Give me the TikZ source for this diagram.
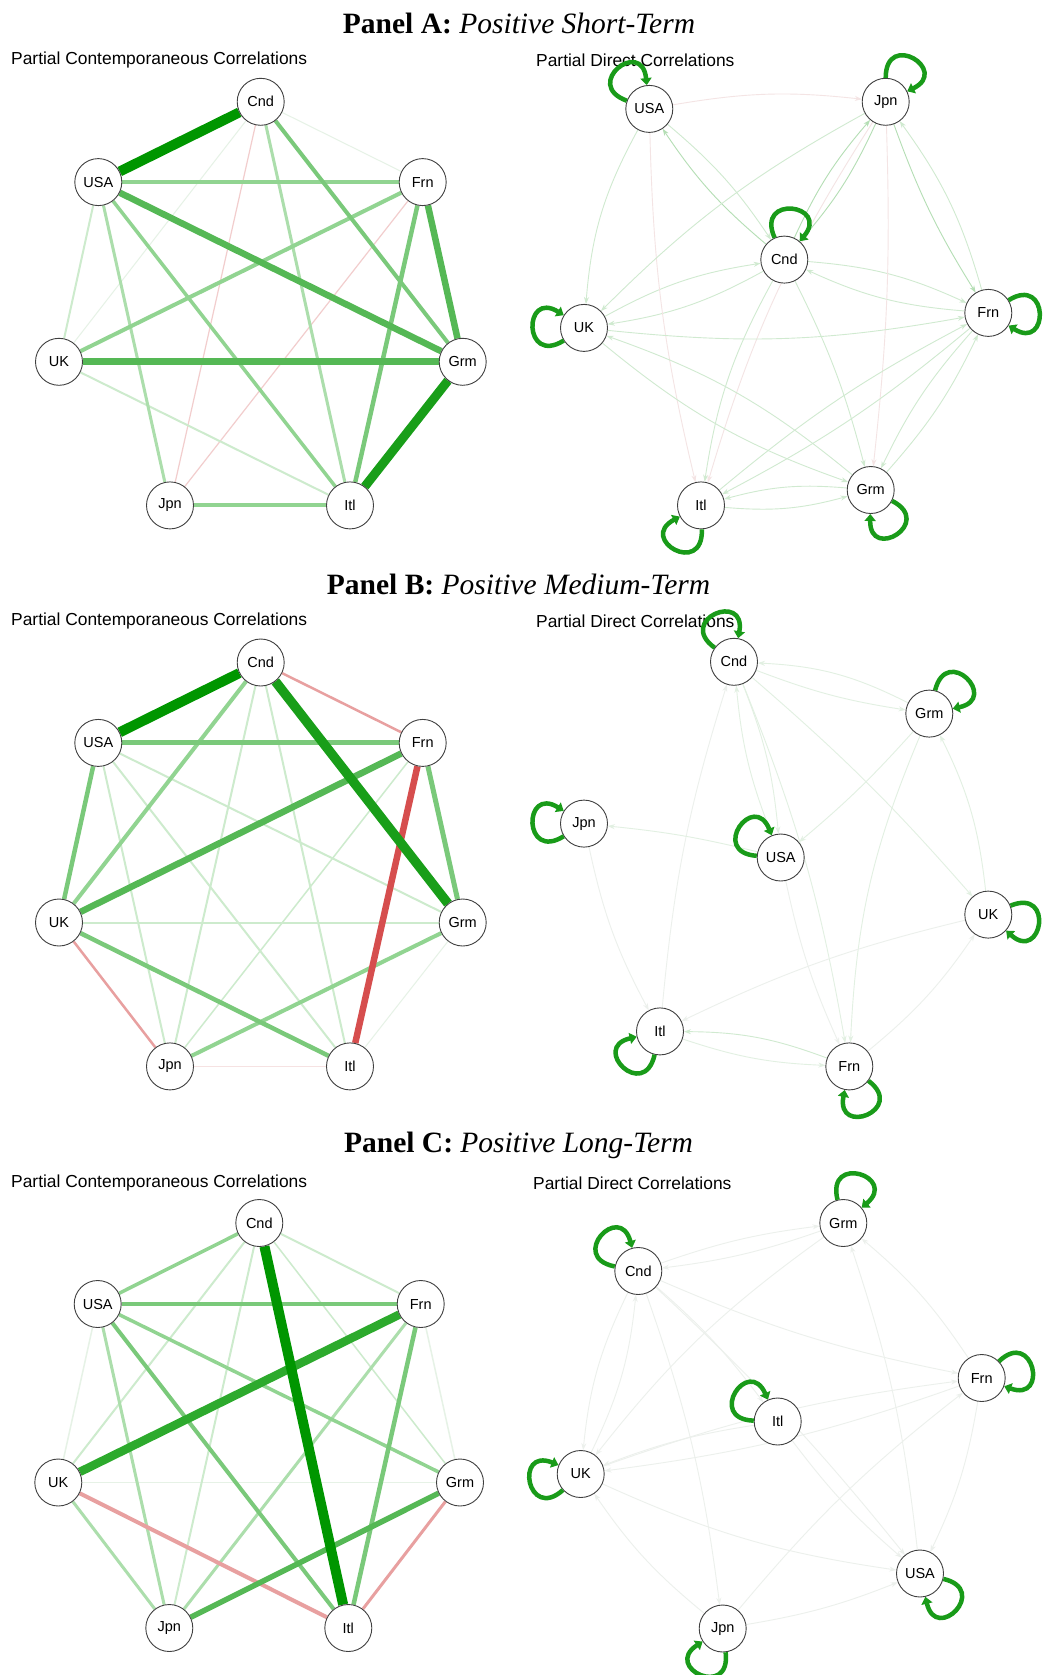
\documentclass[tikz,border=0pt]{standalone}
\usepackage{fontspec}
\setmainfont{Liberation Serif}
\setsansfont{Liberation Sans}
\usetikzlibrary{arrows.meta}
\definecolor{dg}{RGB}{0,150,0}
\definecolor{gA}{RGB}{25,158,25}
\definecolor{gAb}{RGB}{45,170,45}
\definecolor{gB}{RGB}{85,184,85}
\definecolor{gC}{RGB}{122,201,122}
\definecolor{gCl}{RGB}{145,212,145}
\definecolor{gD}{RGB}{172,222,172}
\definecolor{gE}{RGB}{205,235,205}
\definecolor{gF}{RGB}{230,242,230}
\definecolor{pkA}{RGB}{232,160,160}
\definecolor{pkB}{RGB}{242,205,205}
\definecolor{pkC}{RGB}{246,226,226}
\definecolor{rdA}{RGB}{214,78,78}
\definecolor{lpc}{RGB}{25,155,25}
\definecolor{fA}{RGB}{208,234,208}
\definecolor{fA2}{RGB}{180,222,180}
\definecolor{fP}{RGB}{244,228,228}
\definecolor{fB}{RGB}{226,240,226}
\definecolor{fC}{RGB}{236,240,236}
\pgfdeclarelayer{bg}
\pgfsetlayers{bg,main}
\tikzset{
  nd/.style={circle,draw=black!75,line width=0.9pt,fill=white,minimum size=47pt,inner sep=0pt,font=\sffamily\fontsize{14.5}{16}\selectfont},
  ptitle/.style={font=\fontsize{29.5}{32}\selectfont},
  subt/.style={anchor=west,inner sep=0pt,font=\sffamily\fontsize{17.4}{19}\selectfont},
  de/.style={line width=0.9pt,-{Stealth[length=7pt,width=5pt]}},
  lp/.style={draw=lpc,line width=4.5pt,-{Triangle[length=7pt,width=11pt]}}
}
\newcommand\cedge[4]{\draw[line width=#1pt,draw=#2] (#3) -- (#4);}
\newcommand\sloop[2]{\pgfmathsetmacro\lpo{#2+32}\pgfmathsetmacro\lpi{#2-32}\draw[lp] (#1) to[out=\lpo,in=\lpi,distance=48pt] (#1);}
\begin{document}
\begin{tikzpicture}[x=1pt,y=-1pt]
\useasboundingbox (0,0) rectangle (1042,1675);
\begin{pgfonlayer}{bg}
\fill[white] (0,0) rectangle (1042,1675);
\end{pgfonlayer}

% titles
\node[ptitle] (tA) at (519,23.5) {\textbf{Panel A:} \textit{Positive Short-Term}};
\node[ptitle] (tB) at (518.5,584.6) {\textbf{Panel B:} \textit{Positive Medium-Term}};
\node[ptitle] (tC) at (518.5,1145.6) {\textbf{Panel C:} \textit{Positive Long-Term}};
\node[subt] (sAL) at (11,60) {Partial Contemporaneous Correlations};
\node[subt] (sAR) at (536,60) {Partial Direct Correlations};
\node[subt] (sBL) at (11,620.8) {Partial Contemporaneous Correlations};
\node[subt] (sBR) at (536,620.8) {Partial Direct Correlations};
\node[subt] (sCL) at (11,1183.4) {Partial Contemporaneous Correlations};
\node[subt] (sCR) at (533,1183.4) {Partial Direct Correlations};

% ---------- Panel A left ----------
\node[nd] (aCnd) at (260.7,101.8) {Cnd};
\node[nd] (aUSA) at (98.3,182.1) {USA};
\node[nd] (aFrn) at (422.7,182.1) {Frn};
\node[nd] (aUK) at (59,361.8) {UK};
\node[nd] (aGrm) at (462.7,361.8) {Grm};
\node[nd] (aJpn) at (170,505.4) {Jpn};
\node[nd] (aItl) at (350,505.4) {Itl};
\begin{pgfonlayer}{bg}
\cedge{1}{gF}{aCnd}{aUK}
\cedge{1}{gF}{aCnd}{aFrn}
\cedge{1.2}{pkB}{aCnd}{aJpn}
\cedge{1.2}{pkB}{aFrn}{aJpn}
\cedge{2}{gE}{aUSA}{aUK}
\cedge{2}{gE}{aUK}{aItl}
\cedge{3}{gD}{aCnd}{aItl}
\cedge{3}{gD}{aUSA}{aJpn}
\cedge{3.5}{gCl}{aUSA}{aItl}
\cedge{4}{gCl}{aUSA}{aFrn}
\cedge{4}{gCl}{aFrn}{aUK}
\cedge{4}{gCl}{aJpn}{aItl}
\cedge{4}{gC}{aCnd}{aGrm}
\cedge{4.5}{gC}{aFrn}{aItl}
\cedge{6.5}{gB}{aUSA}{aGrm}
\cedge{6.5}{gB}{aFrn}{aGrm}
\cedge{7}{gB}{aUK}{aGrm}
\cedge{9}{gA}{aGrm}{aItl}
\cedge{10}{dg}{aUSA}{aCnd}
\end{pgfonlayer}

% ---------- Panel A right ----------
\node[nd] (aRUSA) at (649.3,108.9) {USA};
\node[nd] (aRJpn) at (885.7,101.8) {Jpn};
\node[nd] (aRCnd) at (784.3,259.6) {Cnd};
\node[nd] (aRUK) at (584,327.9) {UK};
\node[nd] (aRFrn) at (988.3,312.9) {Frn};
\node[nd] (aRItl) at (701,505.4) {Itl};
\node[nd] (aRGrm) at (870.7,490) {Grm};
\begin{pgfonlayer}{bg}
\draw[de,fA2] (aRCnd) to[bend left=8] (aRUSA);
\draw[de,fA] (aRUSA) to[bend left=8] (aRCnd);
\draw[de,fA2] (aRCnd) to[bend left=8] (aRJpn);
\draw[de,fA2] (aRJpn) to[bend left=8] (aRCnd);
\draw[de,fA] (aRCnd) to[bend left=10] (aRUK);
\draw[de,fA] (aRUK) to[bend left=10] (aRCnd);
\draw[de,fA] (aRCnd) to[bend left=10] (aRFrn);
\draw[de,fA] (aRFrn) to[bend left=10] (aRCnd);
\draw[de,fA] (aRCnd) to[bend right=10] (aRItl);
\draw[de,fA] (aRCnd) to[bend left=6] (aRGrm);
\draw[de,fA2] (aRJpn) to[bend right=6] (aRFrn);
\draw[de,fA] (aRFrn) to[bend right=10] (aRJpn);
\draw[de,fP] (aRUSA) to[bend left=8] (aRJpn);
\draw[de,fA] (aRUSA) to[bend right=12] (aRUK);
\draw[de,fP] (aRUSA) to[bend right=6] (aRItl);
\draw[de,fP] (aRJpn) to[bend right=8] (aRItl);
\draw[de,fA] (aRJpn) to[bend right=8] (aRUK);
\draw[de,fP] (aRJpn) to[bend left=4] (aRGrm);
\draw[de,fA] (aRUK) to[bend right=10] (aRGrm);
\draw[de,fA] (aRGrm) to[bend right=10] (aRUK);
\draw[de,fA] (aRItl) to[bend right=10] (aRGrm);
\draw[de,fA] (aRGrm) to[bend right=10] (aRItl);
\draw[de,fA] (aRFrn) to[bend left=6] (aRItl);
\draw[de,fA] (aRItl) to[bend left=6] (aRFrn);
\draw[de,fA] (aRGrm) to[bend right=8] (aRFrn);
\draw[de,fA] (aRFrn) to[bend right=8] (aRGrm);
\draw[de,fA] (aRUK) to[bend right=8] (aRFrn);
\end{pgfonlayer}
\sloop{aRUSA}{128}
\sloop{aRJpn}{58}
\sloop{aRCnd}{82}
\sloop{aRUK}{180}
\sloop{aRFrn}{0}
\sloop{aRItl}{240}
\sloop{aRGrm}{301}

% ---------- Panel B left ----------
\node[nd] (bCnd) at (260.7,662.5) {Cnd};
\node[nd] (bUSA) at (98.3,742.9) {USA};
\node[nd] (bFrn) at (422.7,742.9) {Frn};
\node[nd] (bUK) at (59,922.5) {UK};
\node[nd] (bGrm) at (462.7,922.5) {Grm};
\node[nd] (bJpn) at (170,1066.4) {Jpn};
\node[nd] (bItl) at (350,1066.4) {Itl};
\begin{pgfonlayer}{bg}
\cedge{1}{gF}{bGrm}{bItl}
\cedge{1.2}{pkC}{bJpn}{bItl}
\cedge{1.5}{gE}{bFrn}{bJpn}
\cedge{2}{gE}{bCnd}{bJpn}
\cedge{2}{gE}{bCnd}{bItl}
\cedge{2}{gE}{bUSA}{bJpn}
\cedge{2}{gE}{bUSA}{bItl}
\cedge{2}{gE}{bUSA}{bGrm}
\cedge{2}{gE}{bUK}{bGrm}
\cedge{2.5}{pkA}{bCnd}{bFrn}
\cedge{2.5}{pkA}{bUK}{bJpn}
\cedge{4}{gCl}{bCnd}{bUK}
\cedge{4}{gCl}{bGrm}{bJpn}
\cedge{5}{gC}{bUSA}{bFrn}
\cedge{4.5}{gC}{bUSA}{bUK}
\cedge{5}{gC}{bFrn}{bGrm}
\cedge{4.5}{gC}{bUK}{bItl}
\cedge{6.5}{gB}{bFrn}{bUK}
\cedge{6.5}{rdA}{bFrn}{bItl}
\cedge{9.5}{gA}{bCnd}{bGrm}
\cedge{10}{dg}{bUSA}{bCnd}
\end{pgfonlayer}

% ---------- Panel B right ----------
\node[nd] (bRCnd) at (734,661.8) {Cnd};
\node[nd] (bRGrm) at (929.3,713.6) {Grm};
\node[nd] (bRJpn) at (584,823.6) {Jpn};
\node[nd] (bRUSA) at (780.7,857.5) {USA};
\node[nd] (bRUK) at (988.3,914.6) {UK};
\node[nd] (bRItl) at (660,1031.4) {Itl};
\node[nd] (bRFrn) at (849.3,1066.4) {Frn};
\begin{pgfonlayer}{bg}
\draw[de,fB] (bRGrm) to[bend right=12] (bRCnd);
\draw[de,fB] (bRCnd) to[bend right=6] (bRGrm);
\draw[de,fB] (bRCnd) to[bend left=8] (bRUSA);
\draw[de,fB] (bRUSA) to[bend left=8] (bRCnd);
\draw[de,fB] (bRCnd) to[bend left=4] (bRUK);
\draw[de,fB] (bRGrm) to[bend left=4] (bRUSA);
\draw[de,fB] (bRGrm) to[bend right=10] (bRFrn);
\draw[de,fB] (bRUK) to[bend right=10] (bRGrm);
\draw[de,fB] (bRCnd) to[bend left=6] (bRFrn);
\draw[de,fA] (bRFrn) to[bend right=10] (bRItl);
\draw[de,fB] (bRItl) to[bend right=8] (bRFrn);
\draw[de,fC] (bRItl) to[bend left=6] (bRCnd);
\draw[de,fB] (bRUSA) to[bend right=4] (bRJpn);
\draw[de,fC] (bRJpn) to[bend right=8] (bRItl);
\draw[de,fC] (bRUK) to[bend right=6] (bRItl);
\draw[de,fC] (bRFrn) to[bend right=8] (bRUK);
\draw[de,fC] (bRUSA) to[bend right=6] (bRFrn);
\end{pgfonlayer}
\sloop{bRCnd}{112}
\sloop{bRGrm}{44}
\sloop{bRJpn}{180}
\sloop{bRUSA}{144}
\sloop{bRUK}{-10}
\sloop{bRItl}{225}
\sloop{bRFrn}{-69}

% ---------- Panel C left ----------
\node[nd] (cCnd) at (259.3,1223) {Cnd};
\node[nd] (cUSA) at (97.7,1304) {USA};
\node[nd] (cFrn) at (420.7,1304) {Frn};
\node[nd] (cUK) at (58.3,1482.5) {UK};
\node[nd] (cGrm) at (460,1482.5) {Grm};
\node[nd] (cJpn) at (169.3,1628) {Jpn};
\node[nd] (cItl) at (348.3,1628) {Itl};
\begin{pgfonlayer}{bg}
\cedge{1}{gF}{cUK}{cGrm}
\cedge{1.5}{gF}{cUSA}{cUK}
\cedge{1.5}{gF}{cFrn}{cGrm}
\cedge{1.5}{gE}{cCnd}{cGrm}
\cedge{2}{gE}{cCnd}{cFrn}
\cedge{2}{gE}{cCnd}{cUK}
\cedge{2}{gE}{cCnd}{cJpn}
\cedge{3}{gD}{cUSA}{cJpn}
\cedge{3}{gD}{cFrn}{cJpn}
\cedge{3}{gD}{cUK}{cJpn}
\cedge{3}{pkA}{cGrm}{cItl}
\cedge{3.5}{gCl}{cCnd}{cUSA}
\cedge{3.5}{gCl}{cUSA}{cGrm}
\cedge{4}{gC}{cUSA}{cItl}
\cedge{4.5}{gC}{cUSA}{cFrn}
\cedge{4.5}{gC}{cFrn}{cItl}
\cedge{4}{pkA}{cUK}{cItl}
\cedge{5.5}{gB}{cGrm}{cJpn}
\cedge{8.5}{gAb}{cFrn}{cUK}
\cedge{10}{dg}{cCnd}{cItl}
\end{pgfonlayer}

% ---------- Panel C right ----------
\node[nd] (cRGrm) at (843.3,1223) {Grm};
\node[nd] (cRCnd) at (638.3,1271) {Cnd};
\node[nd] (cRFrn) at (981.7,1378) {Frn};
\node[nd] (cRItl) at (777.7,1421.5) {Itl};
\node[nd] (cRUK) at (580.7,1474) {UK};
\node[nd] (cRUSA) at (920,1573.5) {USA};
\node[nd] (cRJpn) at (722.7,1628.5) {Jpn};
\begin{pgfonlayer}{bg}
\draw[de,fC] (cRCnd) to[bend left=6] (cRGrm);
\draw[de,fC] (cRGrm) to[bend left=6] (cRCnd);
\draw[de,fC] (cRCnd) to[bend right=6] (cRFrn);
\draw[de,fC] (cRCnd) to[bend left=4] (cRUSA);
\draw[de,fC] (cRCnd) to[bend right=10] (cRUK);
\draw[de,fC] (cRUK) to[bend right=10] (cRCnd);
\draw[de,fC] (cRCnd) to[bend left=6] (cRJpn);
\draw[de,fC] (cRCnd) to[bend left=6] (cRItl);
\draw[de,fC] (cRUSA) to[bend right=6] (cRGrm);
\draw[de,fC] (cRFrn) to[bend right=8] (cRGrm);
\draw[de,fC] (cRFrn) to[bend left=6] (cRUK);
\draw[de,fC] (cRUK) to[bend left=6] (cRFrn);
\draw[de,fC] (cRFrn) to[bend left=8] (cRUSA);
\draw[de,fC] (cRUK) to[bend right=8] (cRUSA);
\draw[de,fC] (cRJpn) to[bend right=6] (cRUSA);
\draw[de,fC] (cRJpn) to[bend left=6] (cRFrn);
\draw[de,fC] (cRItl) to[bend right=6] (cRUSA);
\draw[de,fC] (cRItl) to[bend right=6] (cRUK);
\draw[de,fC] (cRJpn) to[bend left=8] (cRUK);
\draw[de,fC] (cRGrm) to[bend right=8] (cRUK);
\end{pgfonlayer}
\sloop{cRGrm}{72}
\sloop{cRCnd}{137}
\sloop{cRFrn}{12}
\sloop{cRItl}{146}
\sloop{cRUK}{190}
\sloop{cRUSA}{-45}
\sloop{cRJpn}{245}
\end{tikzpicture}
\end{document}
